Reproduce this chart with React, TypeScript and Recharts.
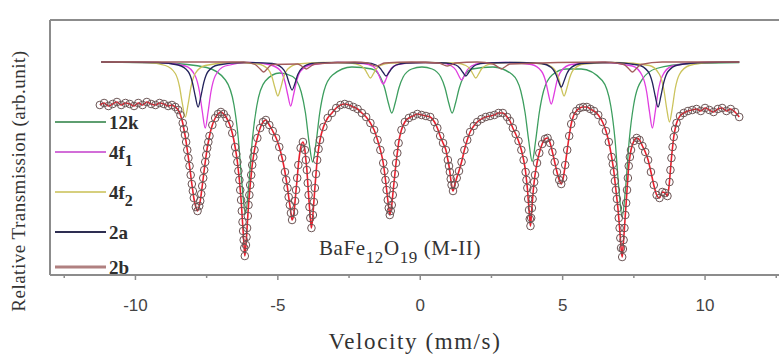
import { ComposedChart, Line, Scatter, XAxis, YAxis, ReferenceLine, Customized } from "recharts";

// measured spectrum: [velocity (mm/s), relative transmission (%)]
const spectrum: [number, number][] = [
  [-11.25, 99.8], [-11.1, 100.0], [-10.95, 99.7], [-10.8, 99.9], [-10.65, 100.1], [-10.5, 99.8],
  [-10.35, 100.0], [-10.2, 99.9], [-10.05, 99.7], [-9.9, 100.0], [-9.75, 99.8], [-9.6, 100.1],
  [-9.45, 99.9], [-9.3, 99.8], [-9.15, 100.0], [-9.0, 99.9], [-8.85, 99.7], [-8.72, 99.8],
  [-8.6, 99.6], [-8.5, 99.3], [-8.42, 98.8], [-8.34, 98.0], [-8.26, 96.8], [-8.18, 95.3],
  [-8.1, 93.7], [-8.02, 91.9], [-7.95, 90.5], [-7.88, 89.6], [-7.82, 89.2], [-7.76, 89.7],
  [-7.69, 90.9], [-7.62, 92.5], [-7.55, 94.1], [-7.48, 95.5], [-7.4, 96.7], [-7.3, 97.8],
  [-7.2, 98.5], [-7.1, 98.9], [-7.0, 99.1], [-6.9, 98.9],
  [-6.8, 98.5], [-6.7, 97.9], [-6.6, 97.0], [-6.5, 95.6], [-6.42, 94.1], [-6.35, 92.3],
  [-6.29, 90.3], [-6.24, 88.1], [-6.2, 86.3], [-6.16, 84.7], [-6.12, 85.8], [-6.08, 87.5],
  [-6.03, 89.8], [-5.97, 91.8], [-5.9, 93.8], [-5.82, 95.3], [-5.72, 96.5], [-5.62, 97.5],
  [-5.52, 98.1], [-5.42, 98.3],
  [-5.3, 97.8], [-5.18, 97.2], [-5.06, 96.5], [-4.95, 95.6], [-4.85, 94.5], [-4.75, 93.1],
  [-4.66, 91.5], [-4.58, 89.8], [-4.5, 88.3], [-4.43, 89.1], [-4.36, 91.3], [-4.28, 93.8],
  [-4.2, 95.5], [-4.12, 96.1], [-4.05, 95.3], [-3.98, 93.3], [-3.92, 90.8], [-3.86, 88.5],
  [-3.82, 87.5], [-3.77, 88.8], [-3.7, 91.5], [-3.62, 94.3], [-3.52, 96.3], [-3.4, 97.6],
  [-3.25, 98.5], [-3.1, 99.0], [-2.95, 99.5], [-2.8, 99.8], [-2.65, 99.9], [-2.5, 99.8],
  [-2.35, 99.6], [-2.2, 99.4], [-2.05, 99.0], [-1.9, 98.6], [-1.75, 98.0], [-1.62, 97.3],
  [-1.5, 96.3], [-1.4, 95.3], [-1.3, 94.0], [-1.22, 92.3], [-1.14, 90.3], [-1.07, 88.8],
  [-1.0, 89.8], [-0.93, 91.8], [-0.85, 94.0], [-0.76, 96.0], [-0.66, 97.3], [-0.54, 98.1],
  [-0.4, 98.5], [-0.25, 98.7], [-0.1, 98.9], [0.05, 98.8], [0.2, 98.7],
  [0.35, 98.6], [0.5, 98.1], [0.6, 97.5], [0.7, 96.7], [0.8, 96.0], [0.9, 95.3],
  [0.97, 94.3], [1.04, 93.1], [1.1, 91.8], [1.15, 91.2], [1.21, 91.8], [1.28, 92.5],
  [1.36, 93.2], [1.45, 94.1], [1.55, 95.3], [1.65, 96.3], [1.75, 97.1], [1.88, 97.7],
  [2.0, 98.1], [2.15, 98.4], [2.3, 98.6], [2.45, 98.7], [2.6, 98.8], [2.75, 99.0],
  [2.9, 99.0], [3.05, 98.6], [3.15, 98.2], [3.25, 97.5], [3.35, 96.9], [3.45, 96.2],
  [3.55, 95.3], [3.63, 94.3], [3.7, 93.1], [3.76, 91.5], [3.82, 89.3], [3.87, 87.7],
  [3.92, 89.5], [3.97, 91.3], [4.03, 92.8], [4.1, 94.0], [4.18, 95.0], [4.28, 95.9],
  [4.38, 96.4], [4.47, 96.5], [4.56, 96.0], [4.64, 95.1], [4.72, 94.1], [4.8, 93.1],
  [4.88, 92.3], [4.95, 91.9], [5.02, 92.5], [5.09, 93.8], [5.16, 95.3], [5.23, 96.7],
  [5.3, 97.9], [5.38, 98.7], [5.48, 99.2], [5.6, 99.5], [5.72, 99.6], [5.85, 99.6], [5.97, 99.4],
  [6.1, 99.2], [6.25, 98.8], [6.4, 98.1], [6.52, 97.2], [6.62, 96.1], [6.72, 94.6],
  [6.8, 93.1], [6.87, 91.3], [6.94, 89.5], [7.0, 87.5], [7.05, 85.5], [7.09, 84.6],
  [7.14, 86.3], [7.2, 88.8], [7.26, 91.3], [7.32, 93.7], [7.4, 95.3], [7.5, 96.2],
  [7.6, 96.5], [7.7, 96.3], [7.8, 95.7], [7.9, 95.1],
  [8.0, 94.3], [8.1, 93.1], [8.2, 91.8], [8.3, 90.8], [8.4, 90.5], [8.5, 91.1],
  [8.6, 91.0], [8.68, 90.7], [8.75, 92.1], [8.82, 94.5], [8.9, 96.6], [9.0, 98.0],
  [9.12, 98.7], [9.25, 99.0], [9.4, 99.2],
  [9.55, 99.3], [9.7, 99.4], [9.85, 99.2], [10.0, 99.5], [10.15, 99.3], [10.3, 99.1],
  [10.45, 99.4], [10.6, 99.5], [10.75, 99.2], [10.9, 99.4], [11.05, 99.1], [11.2, 98.6],
];

// extra channels read on the steep flanks of the absorption lines
const flankPoints: [number, number][] = [
  [-8.3, 97.4], [-8.22, 96.1], [-8.14, 94.5], [-8.06, 92.8], [-7.985, 91.2],
  [-7.725, 90.2], [-7.655, 91.7], [-7.585, 93.3], [-7.515, 94.8], [-7.44, 96.1],
  [-6.46, 94.9], [-6.385, 93.2], [-6.32, 91.3], [-6.265, 89.2], [-6.22, 87.2], [-6.18, 85.5],
  [-6.1, 86.6], [-6.055, 88.7], [-6.0, 90.8], [-5.935, 92.8], [-5.86, 94.6],
  [-4.705, 92.3], [-4.62, 90.6], [-4.54, 89.0], [-4.395, 90.2], [-4.32, 92.5],
  [-4.015, 94.3], [-3.95, 92.0], [-3.89, 89.6], [-3.735, 90.1], [-3.66, 92.9], [-3.57, 95.4],
  [-1.26, 93.2], [-1.18, 91.3], [-1.105, 89.5], [-1.035, 89.2], [-0.965, 90.8], [-0.89, 92.9], [-0.805, 95.0],
  [1.01, 93.7], [1.07, 92.4],
  [3.73, 92.3], [3.79, 90.4], [3.845, 88.4], [3.895, 88.5], [3.945, 90.4], [4.0, 92.1],
  [6.76, 93.9], [6.835, 92.2], [6.905, 90.4], [6.97, 88.5], [7.025, 86.5],
  [7.115, 85.4], [7.17, 87.5], [7.23, 90.0], [7.29, 92.5], [7.36, 94.6],
  [8.785, 93.3], [8.86, 95.6], [8.95, 97.4],
];

// fitted sub-spectra (shifted up), one per Fe site
const site12k: [number, number][] = [
  [-11.2, 104.1], [-9.0, 104.0], [-7.5, 103.55], [-6.84, 102.3], [-6.54, 99.8], [-6.39, 96.5],
  [-6.26, 91.9], [-6.14, 88.9], [-6.02, 91.8], [-5.89, 96.5], [-5.74, 99.7], [-5.44, 102.2],
  [-4.94, 103.0], [-4.48, 102.65], [-4.18, 101.1], [-4.03, 99.0], [-3.9, 96.0], [-3.78, 94.1],
  [-3.66, 96.0], [-3.53, 99.0], [-3.38, 101.2], [-3.08, 102.8], [-2.4, 103.6], [-1.7, 103.4],
  [-1.4, 102.6], [-1.25, 101.5], [-1.12, 100.0], [-1.0, 99.0], [-0.88, 100.0], [-0.75, 101.5],
  [-0.6, 102.6], [-0.3, 103.4], [0.06, 103.6], [0.42, 103.4], [0.72, 102.6], [0.87, 101.5],
  [1.0, 100.0], [1.12, 99.0], [1.24, 100.0], [1.37, 101.5], [1.52, 102.6], [1.82, 103.4],
  [2.55, 103.6], [3.23, 102.85], [3.53, 101.2], [3.68, 99.05], [3.81, 96.2], [3.93, 94.15],
  [4.05, 96.2], [4.18, 99.05], [4.33, 101.2], [4.63, 102.8], [5.13, 103.4], [5.65, 103.4],
  [6.39, 102.25], [6.69, 99.7], [6.84, 96.3], [6.97, 91.55], [7.09, 88.6], [7.21, 91.55],
  [7.34, 96.35], [7.49, 99.75], [7.79, 102.35], [8.29, 103.45], [9.5, 103.95], [11.2, 104.05],
];

const site4f1: [number, number][] = [
  [-11.2, 104.1], [-9.3, 104.05],
  [-8.25, 103.7], [-7.9, 102.7], [-7.75, 101.1], [-7.65, 99.1], [-7.55, 97.5], [-7.45, 99.1], [-7.35, 101.1], [-7.2, 102.7], [-6.85, 103.7],
  [-6.0, 104.05],
  [-5.25, 103.8], [-4.9, 103.2], [-4.75, 102.1], [-4.65, 100.8], [-4.55, 99.7], [-4.45, 100.8], [-4.35, 102.1], [-4.2, 103.2], [-3.85, 103.8],
  [-2.9, 104.05],
  [-2.0, 103.95], [-1.65, 103.65], [-1.5, 103.1], [-1.4, 102.4], [-1.3, 101.9], [-1.2, 102.4], [-1.1, 103.1], [-0.95, 103.65], [-0.6, 103.95],
  [0.1, 104.05],
  [0.75, 104.0], [1.1, 103.7], [1.25, 103.3], [1.35, 102.75], [1.45, 102.3], [1.55, 102.75], [1.65, 103.3], [1.8, 103.7], [2.15, 104.0],
  [3.0, 104.05],
  [3.9, 103.85], [4.25, 103.2], [4.4, 102.2], [4.5, 100.9], [4.6, 99.9], [4.7, 100.9], [4.8, 102.2], [4.95, 103.2], [5.3, 103.85],
  [6.4, 104.05],
  [7.45, 103.7], [7.8, 102.7], [7.95, 101.1], [8.05, 99.1], [8.15, 97.5], [8.25, 99.1], [8.35, 101.1], [8.5, 102.7], [8.85, 103.7],
  [9.9, 104.05], [11.2, 104.1],
];

const site4f2: [number, number][] = [
  [-11.2, 104.1], [-9.6, 104.05],
  [-8.95, 103.75], [-8.6, 102.95], [-8.45, 101.6], [-8.35, 99.9], [-8.25, 98.6], [-8.15, 99.9], [-8.05, 101.6], [-7.9, 102.95], [-7.55, 103.75],
  [-6.6, 104.05],
  [-5.7, 103.9], [-5.35, 103.4], [-5.2, 102.55], [-5.1, 101.5], [-5.0, 100.7], [-4.9, 101.5], [-4.8, 102.55], [-4.65, 103.4], [-4.3, 103.9],
  [-3.4, 104.05],
  [-2.45, 104.0], [-2.1, 103.75], [-1.95, 103.4], [-1.85, 102.9], [-1.75, 102.5], [-1.65, 102.9], [-1.55, 103.4], [-1.4, 103.75], [-1.05, 104.0],
  [0.1, 104.05],
  [1.25, 104.0], [1.6, 103.75], [1.75, 103.4], [1.85, 102.9], [1.95, 102.5], [2.05, 102.9], [2.15, 103.4], [2.3, 103.75], [2.65, 104.0],
  [3.5, 104.05],
  [4.35, 103.9], [4.7, 103.4], [4.85, 102.55], [4.95, 101.5], [5.05, 100.7], [5.15, 101.5], [5.25, 102.55], [5.4, 103.4], [5.75, 103.9],
  [6.9, 104.05],
  [8.05, 103.75], [8.4, 102.85], [8.55, 101.4], [8.65, 99.5], [8.75, 98.1], [8.85, 99.5], [8.95, 101.4], [9.1, 102.85], [9.45, 103.75],
  [10.2, 104.05], [11.2, 104.1],
];

const site2a: [number, number][] = [
  [-11.2, 104.1], [-9.2, 104.05],
  [-8.5, 103.8], [-8.15, 103.15], [-8.0, 102.05], [-7.9, 100.7], [-7.8, 99.6], [-7.7, 100.7], [-7.6, 102.05], [-7.45, 103.15], [-7.1, 103.8],
  [-6.2, 104.05],
  [-5.2, 103.95], [-4.85, 103.5], [-4.7, 102.85], [-4.6, 101.95], [-4.5, 101.3], [-4.4, 101.95], [-4.3, 102.85], [-4.15, 103.5], [-3.8, 103.95],
  [-2.9, 104.05],
  [-1.9, 104.0], [-1.55, 103.8], [-1.4, 103.45], [-1.3, 103.05], [-1.2, 102.7], [-1.1, 103.05], [-1.0, 103.45], [-0.85, 103.8], [-0.5, 104.0],
  [0.2, 104.05],
  [0.9, 104.0], [1.25, 103.8], [1.4, 103.45], [1.5, 103.05], [1.6, 102.7], [1.7, 103.05], [1.8, 103.45], [1.95, 103.8], [2.3, 104.0],
  [3.3, 104.05],
  [4.25, 103.95], [4.6, 103.55], [4.75, 102.95], [4.85, 102.2], [4.95, 101.6], [5.05, 102.2], [5.15, 102.95], [5.3, 103.55], [5.65, 103.95],
  [6.7, 104.05],
  [7.65, 103.8], [8.0, 103.15], [8.15, 102.05], [8.25, 100.7], [8.35, 99.6], [8.45, 100.7], [8.55, 102.05], [8.7, 103.15], [9.05, 103.8],
  [10.0, 104.05], [11.2, 104.1],
];

const site2b: [number, number][] = [
  [-11.2, 104.1], [-6.2, 104.1],
  [-5.8, 103.85], [-5.62, 103.4], [-5.5, 103.1], [-5.38, 103.4], [-5.2, 103.85],
  [-4.3, 103.9], [-4.12, 103.6], [-4.0, 103.4], [-3.88, 103.6], [-3.7, 103.9],
  [-2.3, 104.1],
  [-1.85, 104.0], [-1.67, 103.8], [-1.55, 103.7], [-1.43, 103.8], [-1.25, 104.0],
  [-0.3, 104.1],
  [0.65, 104.0], [0.83, 103.8], [0.95, 103.7], [1.07, 103.8], [1.25, 104.0],
  [2.0, 104.1],
  [2.55, 103.9], [2.73, 103.6], [2.85, 103.4], [2.97, 103.6], [3.15, 103.9],
  [6.5, 104.1],
  [7.15, 103.85], [7.33, 103.4], [7.45, 103.1], [7.57, 103.4], [7.75, 103.85],
  [8.5, 104.1], [11.2, 104.1],
];

const siteNames = ["12k", "4f1", "4f2", "2a", "2b"];
const velocityTicks = [-12.5, -10, -7.5, -5, -2.5, 0, 2.5, 5, 7.5, 10, 12.5];

const sites = [
  { name: siteNames[0], data: site12k, color: "#3d9e5f", legend: "#5e9e70", legendWidth: 2.2 },
  { name: siteNames[1], data: site4f1, color: "#e03ee0", legend: "#d26ed8", legendWidth: 2 },
  { name: siteNames[2], data: site4f2, color: "#cbc35c", legend: "#d6cf7e", legendWidth: 2 },
  { name: siteNames[3], data: site2a, color: "#24245c", legend: "#2e2e52", legendWidth: 2 },
  { name: siteNames[4], data: site2b, color: "#a35c5c", legend: "#b08080", legendWidth: 3.2 },
];
const legendRowsY = [122, 152, 192, 232, 267];

const toPoints = (arr: [number, number][]) => arr.map(([v, t]) => ({ v, t }));

const SERIF = "Liberation Serif, Times New Roman, serif";
const SANS = "Liberation Sans, Arial, sans-serif";
const AXIS = "#8c8c8c";

function VelocityTick({ x, y, payload }: any) {
  const major = payload.value % 5 === 0;
  return (
    <g>
      <line x1={x} x2={x} y1={y} y2={y + (major ? 5 : 3)} stroke={AXIS} strokeWidth={1.5} />
      {major && (
        <text x={x} y={y + 36} textAnchor="middle" fontFamily={SANS} fontSize={17} fill="#444">
          {payload.value}
        </text>
      )}
    </g>
  );
}

function Circle({ cx, cy }: any) {
  return <circle cx={cx} cy={cy} r={3.8} fill="none" stroke="#6b5555" strokeWidth={1} />;
}

function Annotations() {
  return (
    <g>
      {sites.map((s, i) => {
        const y = legendRowsY[i];
        const base = s.name.startsWith("4f") ? "4f" : s.name;
        const sub = s.name.startsWith("4f") ? s.name.slice(2) : "";
        return (
          <g key={s.name}>
            <line x1={55} x2={106} y1={y} y2={y} stroke={s.legend} strokeWidth={s.legendWidth} />
            <text x={109} y={y + 7} fontFamily={SERIF} fontSize={19} fontWeight="bold" fill="#2e2e2e">
              {base}
              {sub && <tspan dy={7} fontSize={16}>{sub}</tspan>}
            </text>
          </g>
        );
      })}
      <text x={319} y={255} fontFamily={SERIF} fontSize={21} letterSpacing={0.6} fill="#333">
        BaFe<tspan dy={8} fontSize={17}>12</tspan>
        <tspan dy={-8}>O</tspan>
        <tspan dy={8} fontSize={17}>19</tspan>
        <tspan dy={-8}> (M-II)</tspan>
      </text>
      <text x={415} y={349} textAnchor="middle" fontFamily={SERIF} fontSize={23} letterSpacing={1.6} fill="#333">
        Velocity (mm/s)
      </text>
      <text
        transform="translate(25,181) rotate(-90)"
        textAnchor="middle"
        fontFamily={SERIF}
        fontSize={19}
        letterSpacing={0.5}
        fill="#333"
      >
        Relative Transmission (arb.unit)
      </text>
    </g>
  );
}

export default function App() {
  const observed = toPoints([...spectrum, ...flankPoints].sort((a, b) => a[0] - b[0]));
  return (
    <div style={{ position: "absolute", left: 0, top: 0, width: 779, height: 355, overflow: "hidden", background: "#fff" }}>
      <ComposedChart width={800} height={355} margin={{ top: 20, right: 9.5, bottom: 50, left: 0 }}>
        <XAxis
          type="number"
          dataKey="v"
          domain={[-13, 13]}
          ticks={velocityTicks}
          tick={<VelocityTick />}
          tickLine={false}
          tickSize={0}
          tickMargin={0}
          height={30}
          allowDataOverflow
          axisLine={{ stroke: AXIS, strokeWidth: 2 }}
        />
        <YAxis
          type="number"
          domain={[82.8, 108.3]}
          tick={false}
          tickLine={false}
          width={50}
          allowDataOverflow
          axisLine={{ stroke: AXIS, strokeWidth: 2 }}
        />
        <ReferenceLine y={108.3} stroke={AXIS} strokeWidth={2} />
        {sites.map((s) => (
          <Line
            key={s.name}
            data={toPoints(s.data)}
            dataKey="t"
            type="monotone"
            stroke={s.color}
            strokeWidth={1.3}
            dot={false}
            isAnimationActive={false}
          />
        ))}
        <Line data={observed} dataKey="t" type="monotone" stroke="#e8202e" strokeWidth={1.6} dot={false} isAnimationActive={false} />
        <Scatter data={observed} dataKey="t" shape={<Circle />} isAnimationActive={false} />
        <Customized component={Annotations} />
      </ComposedChart>
    </div>
  );
}
